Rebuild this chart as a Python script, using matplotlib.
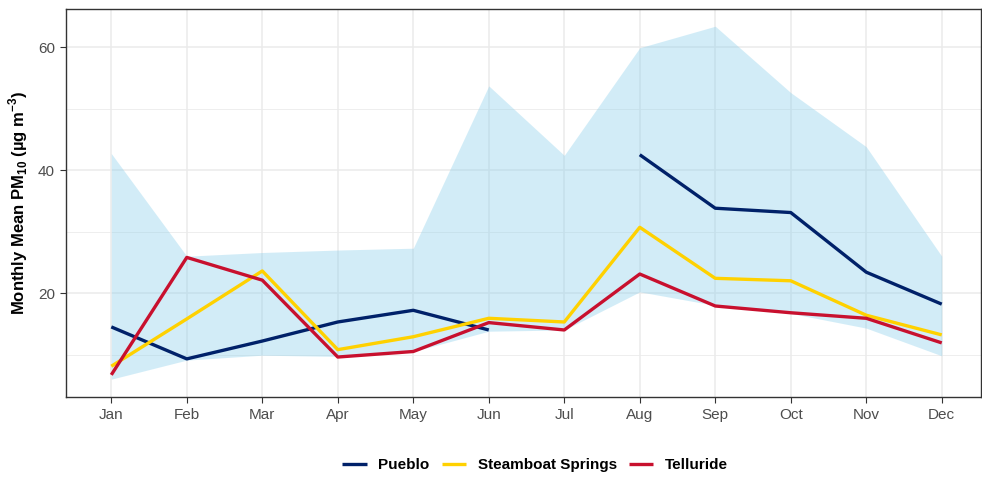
import matplotlib
matplotlib.use("Agg")
import matplotlib.pyplot as plt
import numpy as np

months = ['Jan', 'Feb', 'Mar', 'Apr', 'May', 'Jun',
          'Jul', 'Aug', 'Sep', 'Oct', 'Nov', 'Dec']

# envelope across sites
band_low = [6.0, 9.1, 9.9, 9.7, 10.5, 13.8, 14.0, 20.2, 18.0, 16.7, 14.3, 9.8]
band_high = [42.7, 26.0, 26.6, 27.0, 27.3, 53.7, 42.4, 59.9, 63.4, 52.6, 43.8, 26.0]

pueblo = [14.5, 9.3, 12.2, 15.3, 17.2, 14.0, np.nan, 42.5, 33.8, 33.1, 23.4, 18.2]
steamboat = [8.1, 15.8, 23.6, 10.8, 12.9, 15.9, 15.3, 30.7, 22.4, 22.0, 16.4, 13.2]
telluride = [6.7, 25.8, 22.1, 9.6, 10.5, 15.2, 14.0, 23.1, 17.9, 16.8, 15.9, 11.9]

sites = ['Pueblo', 'Steamboat Springs', 'Telluride']
site_values = [pueblo, steamboat, telluride]
site_colors = ['#002169', '#FFD100', '#C8102E']

plt.rcParams['font.family'] = ['Liberation Sans', 'DejaVu Sans']
plt.rcParams['mathtext.fontset'] = 'custom'
plt.rcParams['mathtext.rm'] = 'Liberation Sans'
plt.rcParams['mathtext.bf'] = 'Liberation Sans:bold'

fig = plt.figure(figsize=(9.82, 4.79), dpi=100)
ax = fig.add_axes([66 / 982, 1 - 397 / 479, (981 - 66) / 982, (397 - 9) / 479])

x = np.arange(len(months))
ax.fill_between(x, band_low, band_high, color='#87CEEB', alpha=0.37,
                linewidth=0, zorder=2)
for name, vals, col in zip(sites, site_values, site_colors):
    ax.plot(x, vals, color=col, linewidth=2.4, label=name, zorder=3,
            solid_capstyle='butt')

ax.set_xlim(-0.6, 11.52)
ax.set_ylim(3.1, 66.2)
ax.set_xticks(x)
ax.set_xticklabels(months)
ax.set_yticks([20, 40, 60])
ax.set_yticks([10, 30, 50], minor=True)
ax.grid(which='major', color='#EBEBEB', linewidth=1.1, zorder=0)
ax.grid(which='minor', axis='y', color='#EBEBEB', linewidth=0.6, zorder=0)
ax.set_axisbelow(True)
ax.tick_params(axis='both', which='major', length=4.5, width=0.8,
               color='#333333', labelcolor='#4D4D4D', labelsize=11)
ax.tick_params(axis='y', which='minor', length=0)
for sp in ax.spines.values():
    sp.set_color('#333333')
    sp.set_linewidth(1.0)

ax.set_ylabel(r"Monthly Mean PM$_{\mathbf{10}}$ (µg m$^{\mathbf{-3}}$)",
              fontsize=12, fontweight='bold', labelpad=6)

fig.legend(loc='center', bbox_to_anchor=(535 / 982, 1 - 465 / 479), ncol=3,
           frameon=False, prop={'weight': 'bold', 'size': 11},
           handlelength=1.6, columnspacing=0.8, handletextpad=0.75)

fig.savefig('out.png', dpi=100)
